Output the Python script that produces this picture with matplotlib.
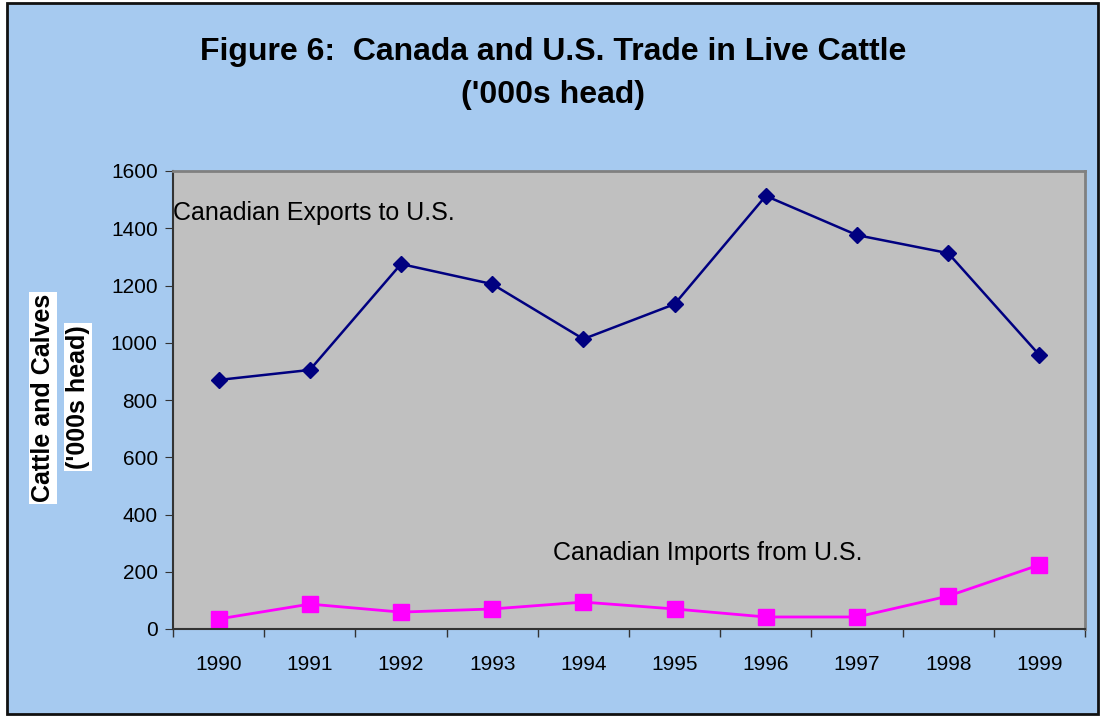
import matplotlib.pyplot as plt
from matplotlib.patches import Rectangle
import numpy as np

plt.rcParams['font.family'] = ['Liberation Sans', 'DejaVu Sans']

years = ['1990', '1991', '1992', '1993', '1994', '1995', '1996', '1997', '1998', '1999']
exports = [870, 905, 1275, 1205, 1013, 1135, 1513, 1376, 1313, 957]
imports = [35, 87, 59, 70, 94, 70, 42, 42, 115, 224]

W, H = 1102, 719
fig = plt.figure(figsize=(W / 100, H / 100), dpi=100)
fig.patch.set_facecolor('white')
# blue chart area with dark border
fig.patches.append(Rectangle((7 / W, 1 - 714 / H), 1091 / W, 711 / H, transform=fig.transFigure,
                             facecolor='#A6CAF0', edgecolor='#111111', linewidth=2, zorder=-10))

ax = fig.add_axes([173 / W, 1 - 629 / H, 912 / W, 458 / H])
ax.set_facecolor('#C0C0C0')

x = np.arange(len(years))
ax.plot(x, exports, color='#000080', marker='D', markersize=8, linewidth=1.8)
ax.plot(x, imports, color='#FF00FF', marker='s', markersize=11, linewidth=2)

ax.set_xlim(-0.5, len(years) - 0.5)
ax.set_ylim(0, 1600)
ax.set_yticks(range(0, 1601, 200))
ax.set_xticks(x)
ax.set_xticklabels(years)
ax.set_xticks(np.arange(-0.5, len(years), 1), minor=True)
ax.tick_params(axis='x', which='major', length=0, pad=19, labelsize=15)
ax.tick_params(axis='x', which='minor', length=6, direction='out', width=1, color='#333333')
ax.tick_params(axis='y', length=6, direction='out', labelsize=15, pad=5, color='#333333')

for side in ['top', 'right']:
    ax.spines[side].set_color('#808080')
    ax.spines[side].set_linewidth(2)
for side in ['left', 'bottom']:
    ax.spines[side].set_color('#333333')
    ax.spines[side].set_linewidth(1.5)

ax.text(-0.5, 1455, 'Canadian Exports to U.S.', fontsize=18, va='center', ha='left')
ax.text(3.67, 265, 'Canadian Imports from U.S.', fontsize=18, va='center', ha='left')

fig.text(553 / W, 1 - 52 / H, 'Figure 6:  Canada and U.S. Trade in Live Cattle',
         fontsize=23, fontweight='bold', ha='center', va='center')
fig.text(553 / W, 1 - 95 / H, "('000s head)",
         fontsize=23, fontweight='bold', ha='center', va='center')

fig.text(43 / W, 1 - 398 / H, 'Cattle and Calves', rotation=90, fontsize=18,
         fontweight='bold', ha='center', va='center',
         bbox=dict(facecolor='white', edgecolor='none', pad=1.5))
fig.text(78 / W, 1 - 397 / H, "('000s head)", rotation=90, fontsize=18,
         fontweight='bold', ha='center', va='center',
         bbox=dict(facecolor='white', edgecolor='none', pad=1.5))

fig.savefig('out.png', dpi=100)
